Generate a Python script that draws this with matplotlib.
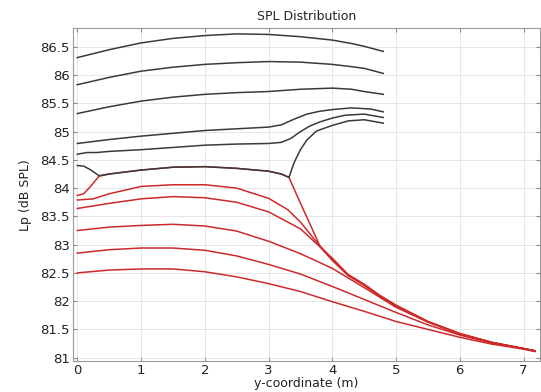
import matplotlib
matplotlib.use("Agg")
from matplotlib import pyplot as plt

# black curves (upper group)
x_top = [0, 0.5, 1, 1.5, 2, 2.5, 3, 3.5, 4, 4.3, 4.5, 4.8]
lp_b1 = [86.31, 86.45, 86.57, 86.65, 86.70, 86.73, 86.72, 86.68, 86.62, 86.56, 86.51, 86.42]
lp_b2 = [85.83, 85.96, 86.07, 86.14, 86.19, 86.22, 86.24, 86.23, 86.19, 86.15, 86.12, 86.03]
lp_b3 = [85.32, 85.44, 85.54, 85.61, 85.66, 85.69, 85.71, 85.75, 85.77, 85.75, 85.71, 85.66]

x_b4 = [0, 0.5, 1, 1.5, 2, 2.5, 3, 3.2, 3.4, 3.6, 3.8, 4.0, 4.3, 4.6, 4.8]
lp_b4 = [84.79, 84.86, 84.92, 84.97, 85.02, 85.05, 85.08, 85.12, 85.22, 85.31, 85.36, 85.39, 85.42, 85.40, 85.35]

x_b5 = [0, 0.15, 0.3, 0.5, 1, 1.5, 2, 2.5, 3, 3.2, 3.35, 3.5, 3.65, 3.8, 4.0, 4.2, 4.5, 4.8]
lp_b5 = [84.60, 84.63, 84.63, 84.65, 84.68, 84.72, 84.76, 84.78, 84.79, 84.81, 84.88, 85.00,
         85.10, 85.17, 85.24, 85.29, 85.31, 85.25]

x_b6 = [0, 0.1, 0.2, 0.34, 0.5, 1, 1.5, 2, 2.5, 3, 3.2, 3.32, 3.4, 3.5, 3.6, 3.75, 4.0, 4.25, 4.5, 4.8]
lp_b6 = [84.40, 84.39, 84.33, 84.22, 84.25, 84.32, 84.37, 84.38, 84.35, 84.30, 84.25, 84.19,
         84.45, 84.68, 84.85, 85.01, 85.11, 85.19, 85.21, 85.15]

# red curves (lower group)
x_ra = [0, 0.1, 0.2, 0.34, 0.5, 1, 1.5, 2, 2.5, 3, 3.2, 3.32, 3.45, 3.55, 3.66, 3.81, 4.0,
        4.25, 4.5, 4.75, 5, 5.5, 6, 6.5, 7, 7.18]
lp_ra = [83.87, 83.90, 84.02, 84.21, 84.25, 84.32, 84.37, 84.38, 84.35, 84.30, 84.25, 84.19,
         83.86, 83.61, 83.34, 82.96, 82.72, 82.45, 82.28, 82.08, 81.91, 81.63, 81.42, 81.27, 81.16, 81.12]

x_rb = [0, 0.25, 0.5, 1, 1.5, 2, 2.5, 3, 3.3, 3.5, 3.75, 4, 4.25, 4.5, 4.75, 5, 5.5, 6, 6.5, 7, 7.18]
lp_rb = [83.79, 83.81, 83.90, 84.03, 84.06, 84.06, 84.00, 83.82, 83.62, 83.40, 83.05, 82.74,
         82.46, 82.29, 82.09, 81.92, 81.64, 81.42, 81.27, 81.16, 81.12]

x_rc = [0, 0.5, 1, 1.5, 2, 2.5, 3, 3.5, 3.75, 4, 4.25, 4.5, 4.75, 5, 5.5, 6, 6.5, 7, 7.18]
lp_rc = [83.64, 83.73, 83.81, 83.85, 83.83, 83.75, 83.58, 83.28, 83.02, 82.76, 82.47, 82.30,
         82.10, 81.93, 81.64, 81.43, 81.27, 81.16, 81.12]

x_low = [0, 0.5, 1, 1.5, 2, 2.5, 3, 3.5, 4, 4.5, 5, 5.5, 6, 6.5, 7, 7.18]
lp_rd = [83.25, 83.31, 83.34, 83.36, 83.33, 83.24, 83.06, 82.84, 82.58, 82.24, 81.89, 81.63, 81.42, 81.27, 81.16, 81.12]
lp_re = [82.85, 82.91, 82.94, 82.94, 82.90, 82.80, 82.65, 82.48, 82.26, 82.03, 81.80, 81.58, 81.40, 81.26, 81.16, 81.11]
lp_rf = [82.50, 82.55, 82.57, 82.57, 82.52, 82.43, 82.31, 82.17, 81.99, 81.82, 81.64, 81.50, 81.36, 81.24, 81.15, 81.11]

x_ticks = [0, 1, 2, 3, 4, 5, 6, 7]
y_ticks = [81, 81.5, 82, 82.5, 83, 83.5, 84, 84.5, 85, 85.5, 86, 86.5]
y_tick_labels = ["81", "81.5", "82", "82.5", "83", "83.5", "84", "84.5", "85", "85.5", "86", "86.5"]

red = "#cc2a2a"
black = "#3a3a3a"

fig = plt.figure(figsize=(5.41, 3.92), dpi=100)
ax = fig.add_axes([0.1344, 0.079, 0.864, 0.849])

for xs, ys in [(x_ra, lp_ra), (x_rb, lp_rb), (x_rc, lp_rc), (x_low, lp_rd),
               (x_low, lp_re), (x_low, lp_rf)]:
    ax.plot(xs, ys, color=red, lw=1.1)

for xs, ys in [(x_top, lp_b1), (x_top, lp_b2), (x_top, lp_b3), (x_b4, lp_b4),
               (x_b5, lp_b5), (x_b6, lp_b6)]:
    ax.plot(xs, ys, color=black, lw=1.1)

ax.set_xlim(-0.072, 7.26)
ax.set_ylim(80.94, 86.83)
ax.set_xticks(x_ticks)
ax.set_yticks(y_ticks)
ax.set_yticklabels(y_tick_labels)
ax.grid(True, color="#e2e2e2", lw=0.6)
ax.tick_params(labelsize=9.5, colors="#888888", labelcolor="#222222", length=3,
               direction="in", top=True, right=True, pad=2)
for s in ax.spines.values():
    s.set_color("#9a9a9a")

ax.set_title("SPL Distribution", fontsize=9, color="#222222", pad=6)
ax.set_xlabel("y-coordinate (m)", fontsize=9, color="#222222", labelpad=0)
ax.set_ylabel("Lp (dB SPL)", fontsize=9, color="#222222", labelpad=6)

fig.savefig("out.png", dpi=100)
